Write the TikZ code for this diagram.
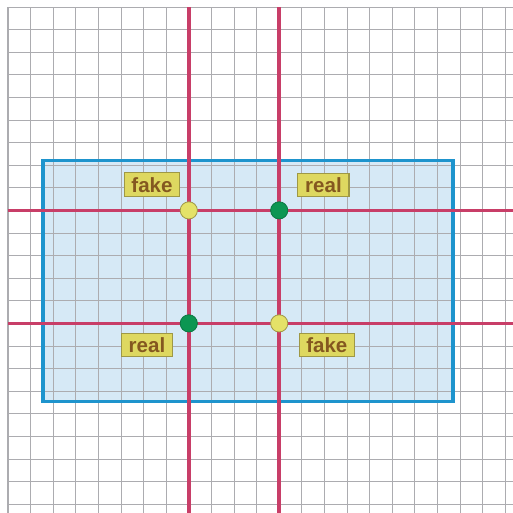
\documentclass[tikz,border=0pt]{standalone}
\definecolor{gridgray}{RGB}{172,172,176}
\definecolor{crossred}{RGB}{200,62,104}
\definecolor{boxblue}{RGB}{30,148,205}
\definecolor{boxfill}{RGB}{214,233,246}
\definecolor{fakeyellow}{RGB}{228,226,104}
\definecolor{realgreen}{RGB}{12,150,82}
\definecolor{tagfill}{RGB}{222,216,96}
\definecolor{tagline}{RGB}{158,152,70}
\definecolor{tagtext}{RGB}{132,88,32}
\usepackage{fontspec}
\setsansfont{Liberation Sans}
\usepackage{tikz}
\usetikzlibrary{positioning}
\tikzset{
  tag/.style={draw=tagline,fill=tagfill,line width=0.8pt,text=tagtext,
    font=\sffamily\bfseries\fontsize{15.5}{16}\selectfont,
    inner xsep=5.5pt,minimum height=17pt,text depth=0pt},
  fakedot/.style={circle,draw=tagline,fill=fakeyellow,line width=0.6pt,
    minimum size=13pt,inner sep=0pt},
  realdot/.style={circle,draw=realgreen!80!black,fill=realgreen,line width=0.6pt,
    minimum size=13pt,inner sep=0pt}
}

\begin{document}
\begin{tikzpicture}[scale=0.6]
        \useasboundingbox (-0.354,0.31) rectangle (22.346,-22.39);
        % paper and box
        \fill[boxfill] (1.55,-6.79) rectangle (19.69,-17.46);
        \draw[draw=gridgray,line width=0.6pt] (0,-22.39) grid (22.346,0);
        \draw[draw=gridgray,line width=1.2pt] (0,-22.39)--(0,0);
        \draw[draw=boxblue,line width=2.6pt] (1.55,-6.79) rectangle (19.69,-17.46);
        % the two pairs of lines
        \draw[draw=crossred,line width=2.8pt] (8,0)--(8,-22.39);
        \draw[draw=crossred,line width=2.8pt] (12,0)--(12,-22.39);
        \draw[draw=crossred,line width=2.8pt] (0,-9)--(22.346,-9);
        \draw[draw=crossred,line width=2.8pt] (0,-14)--(22.346,-14);
        % crossings
        \node[fakedot] (cross1) at (8,-9) {};
        \node[realdot] (cross2) at (12,-9) {};
        \node[realdot] (cross3) at (8,-14) {};
        \node[fakedot] (cross4) at (12,-14) {};
        % labels
        \node[tag] (fake1) at (6.37,-7.86) {fake};
        \node[tag] (real1) at (13.96,-7.88) {real};
        \node[tag] (real2) at (6.15,-14.96) {real};
        \node[tag] (fake2) at (14.11,-14.96) {fake};
      \end{tikzpicture}
\end{document}
